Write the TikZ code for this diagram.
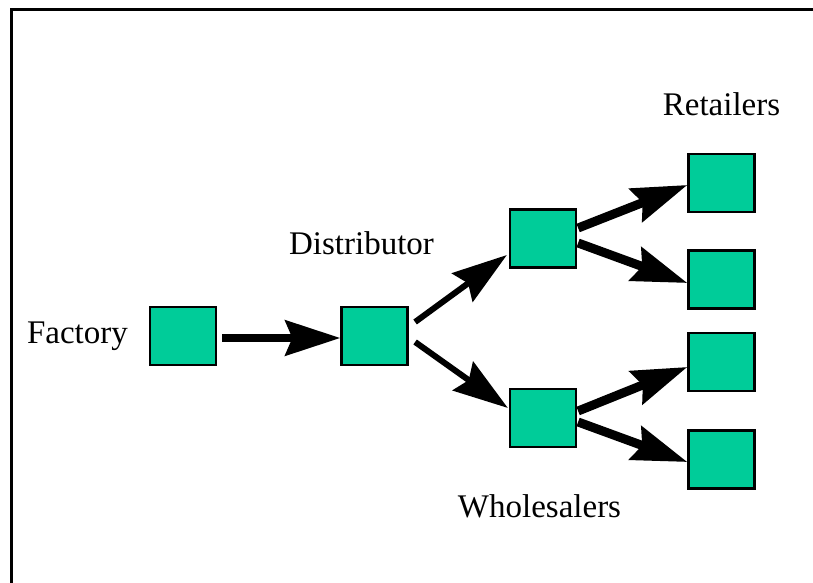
\documentclass[tikz,border=0pt]{standalone}
\usepackage{fontspec}
\setmainfont{Liberation Serif}
\usetikzlibrary{arrows.meta}
\definecolor{boxgreen}{HTML}{00CC99}
\tikzset{
  stage/.style={draw=black, line width=1.1pt, fill=boxgreen, minimum width=33pt, minimum height=29pt, inner sep=0pt},
  lbl/.style={anchor=base, inner sep=0pt, font=\fontsize{16.5}{18}\selectfont},
  flow/.style={line width=#1, -{Stealth[length=27.5pt, width=17.5pt, inset=3.5pt]}},
}
\begin{document}
\begin{tikzpicture}[x=0.5pt, y=-0.5pt]
  \useasboundingbox (0,0) rectangle (813,583);
  % Frame
  \draw[line width=1.5pt] (11,583) -- (11,10) -- (813,10);

  % Stages
  \node[stage] (fac) at (183,336) {};
  \node[stage] (dis) at (374.5,336) {};
  \node[stage] (wh1) at (543,238.5) {};
  \node[stage] (wh2) at (543,418) {};
  \foreach \n/\y in {1/183, 2/279.5, 3/362, 4/459.5}
    \node[stage] (ret\n) at (721.5,\y) {};

  % Labels
  \node[lbl] (facl) at (77.5,343) {Factory};
  \node[lbl] (disl) at (361.5,254) {Distributor};
  \node[lbl] (whl) at (539.5,517) {Wholesalers};
  \node[lbl] (retl) at (721.5,115) {Retailers};

  % Flows
  \draw[flow=4pt] ([shift={(5,2)}]fac.east) -- ([shift={(0,2)}]dis.west);
  \draw[flow=3pt] ([shift={(6.5,-14)}]dis.east) -- ([shift={(-2,16.5)}]wh1.west);
  \draw[flow=3pt] ([shift={(6.5,6)}]dis.east) -- ([shift={(-1,-10)}]wh2.west);
  \draw[flow=4.5pt] ([shift={(1,-10.5)}]wh1.east) -- ([shift={(0,2)}]ret1.west);
  \draw[flow=4.5pt] ([shift={(1,4.5)}]wh1.east) -- ([shift={(0,3.5)}]ret2.west);
  \draw[flow=4.5pt] ([shift={(1,-7)}]wh2.east) -- ([shift={(0,5)}]ret3.west);
  \draw[flow=4.5pt] ([shift={(1,4)}]wh2.east) -- ([shift={(0,2.5)}]ret4.west);
\end{tikzpicture}
\end{document}
